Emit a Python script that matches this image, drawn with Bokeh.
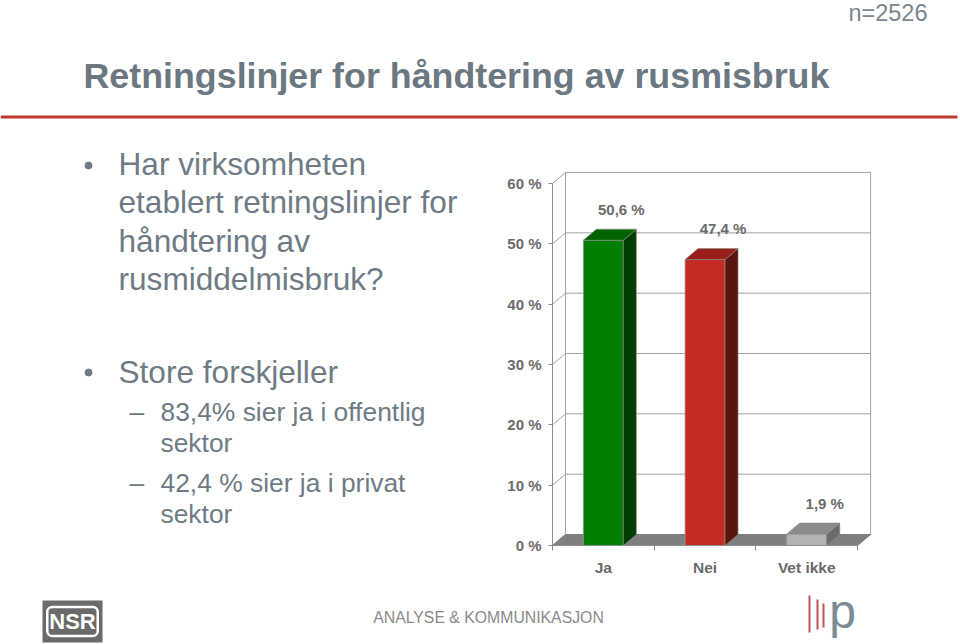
from bokeh.plotting import figure
from bokeh.models import (Range1d, LinearAxis, FixedTicker, PrintfTickFormatter,
                          CustomJSTickFormatter, Label, BoxAnnotation)
from bokeh.embed import file_html
from bokeh.resources import INLINE
from bokeh.core.properties import value

# ---------------- data ----------------
categories = ["Ja", "Nei", "Vet ikke"]
values = [50.6, 47.4, 1.9]
y_ticks = [0, 10, 20, 30, 40, 50, 60]

title_text = "Retningslinjer for håndtering av rusmisbruk"
sample_text = "n=2526"
bullet1 = ["Har virksomheten", "etablert retningslinjer for", "håndtering av", "rusmiddelmisbruk?"]
bullet2 = ["Store forskjeller"]
sub1 = ["83,4% sier ja i offentlig", "sektor"]
sub2 = ["42,4 % sier ja i privat", "sektor"]
footer_text = "ANALYSE & KOMMUNIKASJON"

front_colors = ["#008000", "#C42B25", "#B3B3B3"]
side_colors = ["#003D00", "#5A1511", "#6B6B6B"]
top_colors = ["#006300", "#9A1E1A", "#8C8C8C"]

# ---------------- layout constants ----------------
W, H = 960, 644
X0_PX, Y0_PX = 552, 545   # page position of the chart origin
PX_CAT = 101.7            # pixels per category
PX_PCT = 6.033            # pixels per percent
DX = 13 / PX_CAT          # 3d depth in data units
DY = 11 / PX_PCT
BW = 40 / PX_CAT
LABEL_DX = 18 / PX_CAT
LABEL_DY = 31 / PX_PCT

TXT = "#6E7B85"
AX = "#6B6B6B"
GRID = "#A3A3A3"
FONT = "Liberation Sans"

n = len(categories)

p = figure(width=W, height=H, output_backend="svg", toolbar_location=None,
           x_range=Range1d(-X0_PX / PX_CAT, (W - X0_PX) / PX_CAT),
           y_range=Range1d(-(H - Y0_PX) / PX_PCT, Y0_PX / PX_PCT),
           x_axis_type=None, y_axis_type=None, title=None,
           min_border=0, min_border_left=0, min_border_right=0,
           min_border_top=0, min_border_bottom=0,
           outline_line_color=None, background_fill_color="white",
           border_fill_color="white")
p.grid.visible = False

p.extra_x_ranges = {"px": Range1d(0, W)}
p.extra_y_ranges = {"py": Range1d(H, 0)}

# ---------------- axes ----------------
yaxis = LinearAxis(ticker=FixedTicker(ticks=y_ticks, minor_ticks=[]),
                   formatter=PrintfTickFormatter(format="%d %%"),
                   bounds=(min(y_ticks), max(y_ticks)), fixed_location=0,
                   axis_line_color="#8C8C8C", major_tick_line_color="#8C8C8C",
                   major_tick_out=4, major_tick_in=0, minor_tick_out=0, minor_tick_in=0,
                   major_label_text_font=FONT, major_label_text_font_style="bold",
                   major_label_text_font_size="15px", major_label_text_color=AX,
                   major_label_standoff=7)
p.add_layout(yaxis, "left")

xaxis = LinearAxis(ticker=FixedTicker(ticks=[i + 0.5 for i in range(n)],
                                      minor_ticks=list(range(n + 1))),
                   formatter=CustomJSTickFormatter(args=dict(labels=categories),
                                                   code="return labels[Math.floor(tick)]"),
                   bounds=(0, n), fixed_location=0,
                   axis_line_color="#8C8C8C", minor_tick_line_color="#8C8C8C",
                   major_tick_out=0, major_tick_in=0, minor_tick_out=5, minor_tick_in=0,
                   major_label_text_font=FONT, major_label_text_font_style="bold",
                   major_label_text_font_size="15.5px", major_label_text_color=AX,
                   major_label_standoff=8)
p.add_layout(xaxis, "below")

# ---------------- 3d walls & floor ----------------
wall_y = [t + DY for t in y_ticks]
p.segment(x0=[DX] * len(y_ticks), y0=wall_y, x1=[n + DX] * len(y_ticks), y1=wall_y,
          line_color=GRID, line_width=1)
p.segment(x0=[0] * len(y_ticks), y0=y_ticks, x1=[DX] * len(y_ticks), y1=wall_y,
          line_color=GRID, line_width=1)
p.segment(x0=[DX, n + DX], y0=[DY, DY], x1=[DX, n + DX], y1=[max(y_ticks) + DY] * 2,
          line_color=GRID, line_width=1)
p.patch([0, n, n + DX, DX], [0, 0, DY, DY], fill_color="#7F7F7F", line_color="#7F7F7F")

# ---------------- bars ----------------
centers = [i + 0.5 for i in range(n)]
lefts = [c - BW / 2 for c in centers]
rights = [c + BW / 2 for c in centers]
p.quad(left=lefts, right=rights, bottom=0, top=values, fill_color=front_colors,
       line_color="#9A9A9A", line_width=0.8)
p.patches(xs=[[r, r + DX, r + DX, r] for r in rights],
          ys=[[0, DY, v + DY, v] for v in values],
          fill_color=side_colors, line_color="#8A8A8A", line_width=0.6)
p.patches(xs=[[l, r, r + DX, l + DX] for l, r in zip(lefts, rights)],
          ys=[[v, v, v + DY, v + DY] for v in values],
          fill_color=top_colors, line_color="#8A8A8A", line_width=0.6)

value_labels = [f"{v:.1f}".replace(".", ",") + " %" for v in values]
p.text(x=[c + LABEL_DX for c in centers], y=[v + LABEL_DY for v in values],
       text=value_labels, text_align="center", text_baseline="middle",
       text_font=value(FONT), text_font_style="bold", text_font_size="15px",
       text_color=AX)

# ---------------- slide decorations (page pixel coordinates) ----------------
def lab(x, y, text, size, color=TXT, style="normal", align="left"):
    p.add_layout(Label(x=x, y=y, text=text, x_range_name="px", y_range_name="py",
                       text_font=FONT, text_font_size=size, text_color=color,
                       text_font_style=style, text_align=align, text_baseline="middle"))

def box(l, r, t, b, color):
    p.add_layout(BoxAnnotation(left=l, right=r, top=t, bottom=b,
                               x_range_name="px", y_range_name="py",
                               fill_color=color, fill_alpha=1, line_color=None))

lab(927, 12, sample_text, "23.5px", color="#7A858E", align="right")
lab(83, 75, title_text, "35.8px", color="#6B7882", style="bold")
box(0, 957, 115, 118, "#C0392F")

for k, line in enumerate(bullet1):
    lab(118, 163 + k * 38.5, line, "31.6px")
lab(118, 371, bullet2[0], "31.6px")
p.scatter(x=[88, 88], y=[165, 372], size=7, marker="circle", color=TXT,
          x_range_name="px", y_range_name="py")

for k, line in enumerate(sub1):
    lab(160, 411 + k * 31, line, "26.4px")
lab(129, 411, "–", "26.4px")
for k, line in enumerate(sub2):
    lab(160, 482 + k * 31, line, "26.4px")
lab(129, 482, "–", "26.4px")

# footer
box(42, 102, 600, 642, "#6A6A6A")
p.add_layout(Label(x=72, y=621, text="NSR", x_range_name="px", y_range_name="py",
                   text_font=FONT, text_font_size="22px", text_font_style="bold",
                   text_color="white", text_align="center", text_baseline="middle",
                   border_line_color="white", border_line_width=2.5,
                   padding=2, border_radius=5))
lab(488, 617, footer_text, "15.8px", color="#8A8A8A", align="center")
box(808, 810, 595, 632, "#C0504D")
box(816, 818, 599, 629, "#C0504D")
box(822, 824, 603, 627, "#C0504D")
lab(842, 611, "p", "48px", color="#7B8B95", align="center")

open("out.html", "w").write(file_html(p, INLINE))
